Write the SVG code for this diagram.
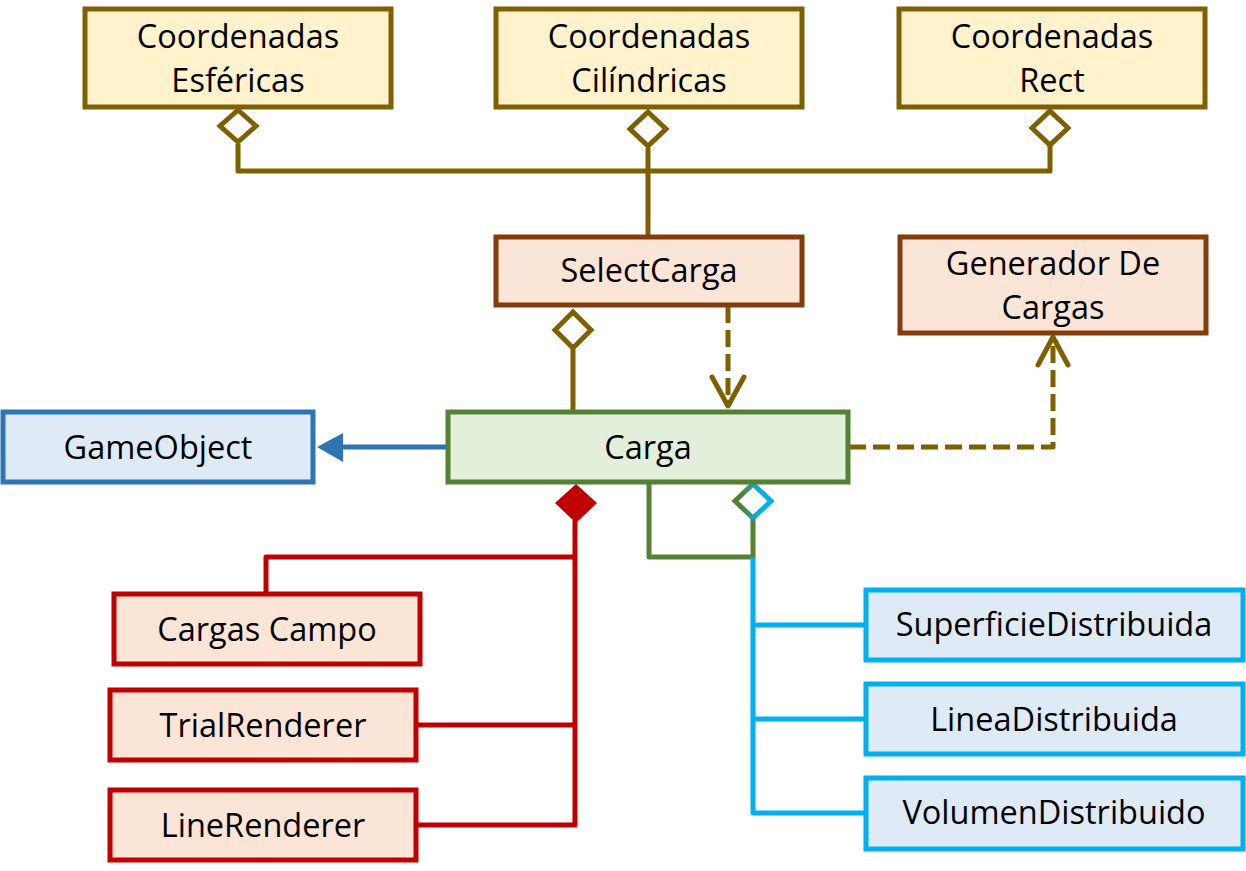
<svg xmlns="http://www.w3.org/2000/svg" width="1246" height="871" viewBox="0 0 1246 871">
<style>
  text { font-family: "Open Sans", "Liberation Sans", sans-serif; font-size: 32.5px; fill: #000; text-anchor: middle; }
  .box { stroke-width: 5; }
  .yel { fill: #FFF2CC; stroke: #7F6000; }
  .org { fill: #FBE5D6; stroke: #843C0C; }
  .grn { fill: #E2EFDA; stroke: #548235; }
  .gob { fill: #DEEBF7; stroke: #2E75B6; }
  .red { fill: #FBE5D6; stroke: #C00000; }
  .cyn { fill: #DEEBF7; stroke: #00B0F0; }
  .ln { fill: none; stroke-width: 5; stroke-linejoin: round; }
  .ol { stroke: #7F6000; }
  .dash { stroke-dasharray: 17 7; }
</style>
<defs>
  <linearGradient id="gb" x1="0" y1="0" x2="1" y2="0">
    <stop offset="0.2" stop-color="#548235"/>
    <stop offset="0.7" stop-color="#00B0F0"/>
  </linearGradient>
</defs>
<g id="connectors">
  <path class="ln ol" d="M238,144 V171 H1050 V146"/>
  <path class="ln ol" d="M648,148 V237"/>
  <polygon class="ol" fill="#fff" stroke-width="5" points="238,110 256,126 238,142 220,126"/>
  <polygon class="ol" fill="#fff" stroke-width="5" points="648,112 666,129 648,146 630,129"/>
  <polygon class="ol" fill="#fff" stroke-width="5" points="1050,111 1068,128 1050,145 1032,128"/>
  <path class="ln ol" d="M573,349 V412"/>
  <polygon class="ol" fill="#fff" stroke-width="5" points="573,312 591,330 573,348 555,330"/>
  <path class="ln ol dash" d="M728,306 V404" stroke-linejoin="miter"/>
  <path class="ln ol" d="M712,377 L728,406 L744,377" stroke-linecap="round"/>
  <path class="ln ol dash" d="M849,447 H1053 V340" stroke-linejoin="miter"/>
  <path class="ln ol" d="M1038,365 L1053,337 L1068,365" stroke-linecap="round"/>
  <path class="ln" stroke="#2E75B6" d="M343,447 H447"/>
  <polygon fill="#2E75B6" points="317,447 343,433 343,462"/>
  <path class="ln" stroke="#C00000" stroke-linejoin="miter" d="M575,520 V825 H417 M575,725 H417 M575,557 H266 V594"/>
  <polygon fill="#C00000" points="576,484 597,503 576,523 555,503"/>
  <path class="ln" stroke="#548235" stroke-linejoin="miter" d="M649,483 V557 H753 V518"/>
  <path class="ln" stroke="#00B0F0" stroke-linejoin="miter" d="M753,557 V813 H866 M753,625 H866 M753,719 H866"/>
  <polygon fill="#fff" stroke="url(#gb)" stroke-width="5" points="753,484 771,501 753,518 735,501"/>
</g>
<g id="CoordenadasEsfericas">
  <rect class="box yel" x="85" y="9" width="306" height="98"/>
  <text x="238" y="48">Coordenadas</text>
  <text x="238" y="92">Esféricas</text>
</g>
<g id="CoordenadasCilindricas">
  <rect class="box yel" x="496" y="9" width="306" height="98"/>
  <text x="649" y="48">Coordenadas</text>
  <text x="649" y="92">Cilíndricas</text>
</g>
<g id="CoordenadasRect">
  <rect class="box yel" x="899" y="9" width="306" height="98"/>
  <text x="1052" y="48">Coordenadas</text>
  <text x="1052" y="92">Rect</text>
</g>
<g id="SelectCarga">
  <rect class="box org" x="496" y="237" width="306" height="68"/>
  <text x="649" y="282">SelectCarga</text>
</g>
<g id="GeneradorDeCargas">
  <rect class="box org" x="900" y="237" width="306" height="96"/>
  <text x="1053" y="275">Generador De</text>
  <text x="1053" y="319">Cargas</text>
</g>
<g id="Carga">
  <rect class="box grn" x="448" y="412" width="400" height="70"/>
  <text x="648" y="459">Carga</text>
</g>
<g id="GameObject">
  <rect class="box gob" x="3" y="412" width="310" height="70"/>
  <text x="158" y="459">GameObject</text>
</g>
<g id="CargasCampo">
  <rect class="box red" x="114" y="594" width="306" height="70"/>
  <text x="267" y="641">Cargas Campo</text>
</g>
<g id="TrialRenderer">
  <rect class="box red" x="110" y="690" width="306" height="70"/>
  <text x="263" y="737">TrialRenderer</text>
</g>
<g id="LineRenderer">
  <rect class="box red" x="110" y="790" width="306" height="70"/>
  <text x="263" y="837">LineRenderer</text>
</g>
<g id="SuperficieDistribuida">
  <rect class="box cyn" x="866" y="590" width="377" height="70"/>
  <text x="1054" y="636">SuperficieDistribuida</text>
</g>
<g id="LineaDistribuida">
  <rect class="box cyn" x="866" y="684" width="377" height="70"/>
  <text x="1054" y="731">LineaDistribuida</text>
</g>
<g id="VolumenDistribuido">
  <rect class="box cyn" x="866" y="778" width="377" height="71"/>
  <text x="1054" y="824">VolumenDistribuido</text>
</g>
</svg>
